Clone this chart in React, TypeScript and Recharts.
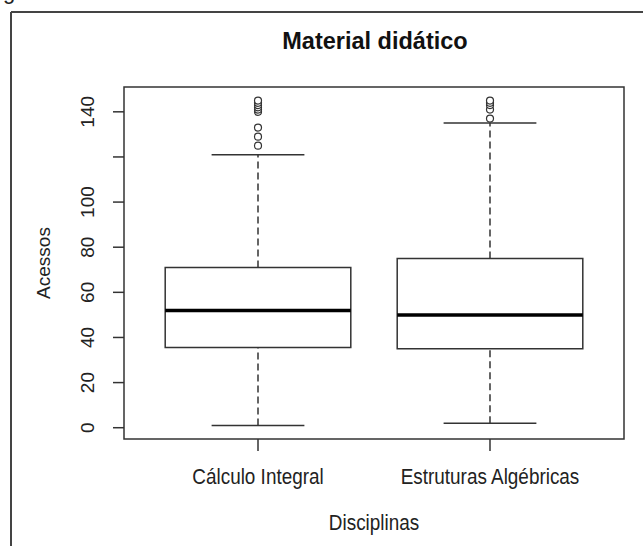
import { ComposedChart, XAxis, YAxis, Scatter, ReferenceArea, ReferenceLine, Label } from 'recharts';

// resumo dos boxplots
const categories = ['Cálculo Integral', 'Estruturas Algébricas'];
const lowerWhisker = [1, 2];
const q1 = [35.5, 35];
const median = [52, 50];
const q3 = [71, 75];
const upperWhisker = [121, 135];
const outliersCalculo = [125, 129, 133, 140, 141, 142, 143, 144, 145];
const outliersEstruturas = [137, 141, 143, 144, 145];
const yTicks = [0, 20, 40, 60, 80, 100, 120, 140];
const xTicks = [1, 2];

const font = "'Liberation Sans', Arial, sans-serif";
const ink = '#333';
// a figura original está um pouco comprimida na horizontal
const squeeze = 0.86;

const outlierData = [
  ...outliersCalculo.map((y) => ({ x: 1, y })),
  ...outliersEstruturas.map((y) => ({ x: 2, y })),
];

const NarrowText = ({ x, y, size, children, bold }: any) => (
  <text transform={`translate(${x},${y}) scale(${squeeze},1)`} textAnchor="middle"
    fontFamily={font} fontSize={size} fontWeight={bold ? 'bold' : 'normal'} fill="#222">
    {children}
  </text>
);

const XTick = ({ x, y, payload }: any) => (
  <NarrowText x={x} y={y} size={22}>{categories[payload.value - 1]}</NarrowText>
);

const YTick = ({ x, y, payload }: any) => {
  // o R omite o rótulo 120 por falta de espaço
  if (payload.value === 120) return <g />;
  return (
    <text x={x} y={y} transform={`rotate(-90, ${x}, ${y})`} textAnchor="middle" dominantBaseline="central"
      fontFamily={font} fontSize={19} fill="#222">
      {payload.value}
    </text>
  );
};

const OutlierDot = ({ cx, cy }: any) => (
  <circle cx={cx} cy={cy} r={3.5} fill="#fff" stroke={ink} strokeWidth={1.2} />
);

export default function App() {
  return (
    <div style={{ position: 'absolute', left: 0, top: 0, width: 643, height: 546, background: '#fff' }}>
      <svg width={643} height={546} style={{ position: 'absolute', left: 0, top: 0 }}>
        <text x={3} y={-1} fontFamily={font} fontSize={22} fill="#222">g</text>
        <line x1={11} y1={12} x2={643} y2={12} stroke="#444" strokeWidth={2} />
        <line x1={11} y1={12} x2={11} y2={546} stroke="#444" strokeWidth={2} />
        <text x={375} y={49} textAnchor="middle" fontFamily={font} fontSize={23.5} fontWeight="bold" fill="#111">
          Material didático
        </text>
      </svg>
      <div style={{ position: 'absolute', left: 0, top: 0 }}>
        <ComposedChart width={643} height={546} margin={{ top: 87, right: 19, bottom: 7, left: 34 }}>
          <XAxis type="number" dataKey="x" domain={[0.4224, 2.5776]} ticks={xTicks} allowDataOverflow
            axisLine={false} tickSize={12} tickMargin={33} tick={<XTick />} height={100}
            tickLine={{ stroke: ink, strokeWidth: 1.5 }}>
            <Label content={({ viewBox }: any) => (
              <NarrowText x={viewBox.x + viewBox.width / 2} y={530} size={22}>Disciplinas</NarrowText>
            )} />
          </XAxis>
          <YAxis type="number" dataKey="y" domain={[-5, 151]} ticks={yTicks} allowDataOverflow
            axisLine={false} tickSize={11} tickMargin={25} tick={<YTick />} width={90}
            tickLine={{ stroke: ink, strokeWidth: 1.5 }}>
            <Label content={({ viewBox }: any) => {
              const cx = 43;
              const cy = viewBox.y + viewBox.height / 2;
              return (
                <text x={cx} y={cy} transform={`rotate(-90, ${cx}, ${cy})`} textAnchor="middle" dominantBaseline="central"
                  fontFamily={font} fontSize={19} fill="#222">
                  Acessos
                </text>
              );
            }} />
          </YAxis>

          {/* moldura da área do gráfico */}
          <ReferenceArea x1={0.4224} x2={2.5776} y1={-5} y2={151} fill="none" stroke={ink} strokeWidth={1.5} ifOverflow="visible" />

          {categories.map((c, i) => {
            const pos = i + 1;
            return [
              <ReferenceLine key={c + 'wu'} segment={[{ x: pos, y: q3[i] }, { x: pos, y: upperWhisker[i] }]}
                stroke={ink} strokeWidth={1.5} strokeDasharray="7 4" />,
              <ReferenceLine key={c + 'wl'} segment={[{ x: pos, y: lowerWhisker[i] }, { x: pos, y: q1[i] }]}
                stroke={ink} strokeWidth={1.5} strokeDasharray="7 4" />,
              <ReferenceLine key={c + 'cu'} segment={[{ x: pos - 0.2, y: upperWhisker[i] }, { x: pos + 0.2, y: upperWhisker[i] }]}
                stroke={ink} strokeWidth={1.5} />,
              <ReferenceLine key={c + 'cl'} segment={[{ x: pos - 0.2, y: lowerWhisker[i] }, { x: pos + 0.2, y: lowerWhisker[i] }]}
                stroke={ink} strokeWidth={1.5} />,
              <ReferenceArea key={c + 'box'} x1={pos - 0.4} x2={pos + 0.4} y1={q1[i]} y2={q3[i]}
                fill="#fff" fillOpacity={1} stroke={ink} strokeWidth={1.5} />,
              <ReferenceLine key={c + 'med'} segment={[{ x: pos - 0.4, y: median[i] }, { x: pos + 0.4, y: median[i] }]}
                stroke="#000" strokeWidth={3.5} />,
            ];
          })}

          <Scatter data={outlierData} dataKey="y" shape={<OutlierDot />} isAnimationActive={false} />
        </ComposedChart>
      </div>
    </div>
  );
}
